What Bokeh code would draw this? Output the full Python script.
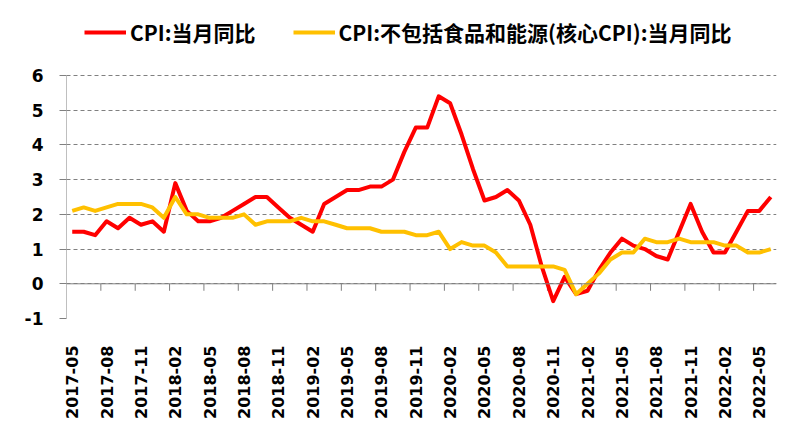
import numpy as np
from bokeh.plotting import figure
from bokeh.models import Range1d, FixedTicker, Legend, LegendItem, Span, ColumnDataSource
from bokeh.embed import file_html
from bokeh.resources import INLINE

# Months 2017-05 .. 2022-06
months = (["2017-%02d" % m for m in range(5, 13)] +
          ["%d-%02d" % (y, m) for y in range(2018, 2022) for m in range(1, 13)] +
          ["2022-%02d" % m for m in range(1, 7)])

cpi = [1.5, 1.5, 1.4, 1.8, 1.6, 1.9, 1.7, 1.8,
       1.5, 2.9, 2.1, 1.8, 1.8, 1.9, 2.1, 2.3, 2.5, 2.5, 2.2, 1.9,
       1.7, 1.5, 2.3, 2.5, 2.7, 2.7, 2.8, 2.8, 3.0, 3.8, 4.5, 4.5,
       5.4, 5.2, 4.3, 3.3, 2.4, 2.5, 2.7, 2.4, 1.7, 0.5, -0.5, 0.2,
       -0.3, -0.2, 0.4, 0.9, 1.3, 1.1, 1.0, 0.8, 0.7, 1.5, 2.3, 1.5,
       0.9, 0.9, 1.5, 2.1, 2.1, 2.5]

core = [2.1, 2.2, 2.1, 2.2, 2.3, 2.3, 2.3, 2.2,
        1.9, 2.5, 2.0, 2.0, 1.9, 1.9, 1.9, 2.0, 1.7, 1.8, 1.8, 1.8,
        1.9, 1.8, 1.8, 1.7, 1.6, 1.6, 1.6, 1.5, 1.5, 1.5, 1.4, 1.4,
        1.5, 1.0, 1.2, 1.1, 1.1, 0.9, 0.5, 0.5, 0.5, 0.5, 0.5, 0.4,
        -0.3, 0.0, 0.3, 0.7, 0.9, 0.9, 1.3, 1.2, 1.2, 1.3, 1.2, 1.2,
        1.2, 1.1, 1.1, 0.9, 0.9, 1.0]

y_ticks = [-1, 0, 1, 2, 3, 4, 5, 6]
y_tick_labels = ["-1", "0", "1", "2", "3", "4", "5", "6"]
label_step = 3
series_names = ["CPI:当月同比", "CPI:不包括食品和能源(核心CPI):当月同比"]

# layout (pixels)
W, H = 800, 436
LEFT, RIGHT, BOTTOM = 66, 24, 118
AXIS_H = 243          # height spanned by the y ticks (-1 .. 6)
TOP_PAD = H - BOTTOM - AXIS_H   # room above the top tick for the legend

n = len(months)
x = [i + 0.5 for i in range(n)]
src = ColumnDataSource(dict(x=x, cpi=cpi, core=core))

units_per_px = (y_ticks[-1] - y_ticks[0]) / AXIS_H
y_top = y_ticks[-1] + TOP_PAD * units_per_px

p = figure(width=W, height=H, x_range=Range1d(0, n), y_range=Range1d(y_ticks[0], y_top),
           output_backend="svg", toolbar_location=None,
           min_border_left=LEFT, min_border_right=RIGHT, min_border_top=0, min_border_bottom=BOTTOM)
p.outline_line_color = None
p.background_fill_color = "white"
p.border_fill_color = "white"

p.xgrid.visible = False
p.ygrid.grid_line_color = "#808080"
p.ygrid.grid_line_dash = "4 3"
p.ygrid.grid_line_width = 1

ya = p.yaxis[0]
ya.ticker = FixedTicker(ticks=y_ticks)
ya.major_label_overrides = dict(zip(y_ticks, y_tick_labels))
ya.axis_line_color = None
ya.major_tick_line_color = "#808080"
ya.major_tick_out = 7
ya.major_tick_in = 0
ya.minor_tick_line_color = None
ya.major_label_text_font = "DejaVu Sans"
ya.major_label_text_font_style = "bold"
ya.major_label_text_font_size = "17px"
ya.major_label_text_color = "black"
ya.major_label_standoff = 16

# vertical axis line only over the tick span
p.segment(x0=[0], y0=[y_ticks[0]], x1=[0], y1=[y_ticks[-1]], line_color="#808080", line_width=1)

xa = p.xaxis[0]
tick_pos = [x[i] for i in range(0, n, label_step)]
xa.ticker = FixedTicker(ticks=tick_pos)
xa.major_label_overrides = {x[i]: months[i] for i in range(0, n, label_step)}
xa.major_label_orientation = np.pi / 2
xa.axis_line_color = None
xa.major_tick_line_color = None
xa.minor_tick_line_color = None
xa.major_label_text_font = "DejaVu Sans"
xa.major_label_text_font_style = "bold"
xa.major_label_text_font_size = "16px"
xa.major_label_text_color = "black"
xa.major_label_standoff = 21

# horizontal axis line at zero with downward ticks every 3 months
p.add_layout(Span(location=0, dimension="width", line_color="#808080", line_width=1))
bounds = list(range(label_step, n - 1, label_step))
tick_len = 7 * units_per_px
p.segment(x0=bounds, y0=[0] * len(bounds), x1=bounds, y1=[-tick_len] * len(bounds),
          line_color="#808080", line_width=1)

r1 = p.line("x", "cpi", source=src, line_color="#FF0000", line_width=4, line_join="round")
r2 = p.line("x", "core", source=src, line_color="#FFC000", line_width=4, line_join="round")

legend = Legend(items=[LegendItem(label=series_names[0], renderers=[r1]),
                       LegendItem(label=series_names[1], renderers=[r2])],
                orientation="horizontal", location=(18, H - BOTTOM - 47),
                border_line_color=None, background_fill_alpha=0,
                padding=0, margin=0, spacing=37, label_standoff=4,
                glyph_width=42, glyph_height=20, label_height=20,
                label_text_font="Noto Sans CJK SC", label_text_font_style="bold",
                label_text_font_size="21px", label_text_color="black")
p.add_layout(legend)

open("out.html", "w").write(file_html(p, INLINE))
